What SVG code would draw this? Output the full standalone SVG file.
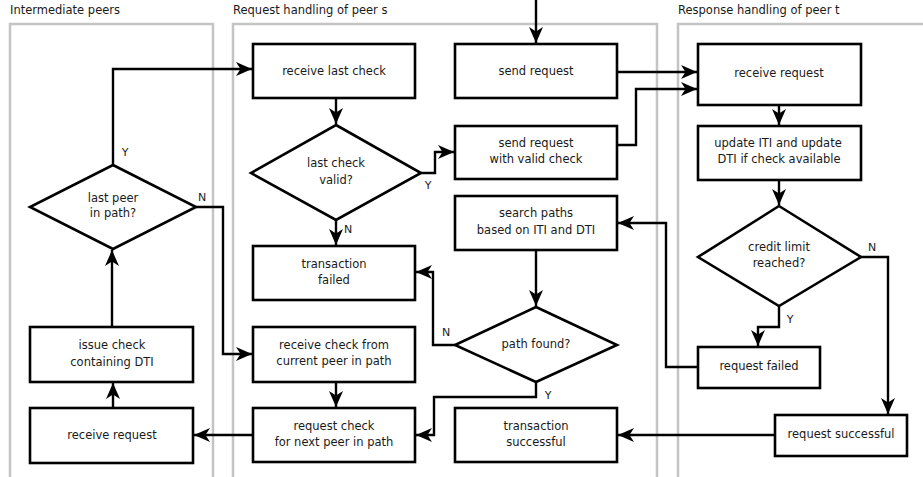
<svg xmlns="http://www.w3.org/2000/svg" width="923" height="477" viewBox="0 0 923 477">
<style>
.lane{fill:none;stroke:#c4c4c4;stroke-width:2.5}
.title{font-family:"DejaVu Sans",sans-serif;font-size:11.5px;fill:#1a1a1a}
.box{fill:#fff;stroke:#000;stroke-width:2.6}
.t{font-family:"DejaVu Sans",sans-serif;font-size:11.5px;fill:#1a1a1a;text-anchor:middle}
.lbl{font-family:"DejaVu Sans",sans-serif;font-size:11px;fill:#1a1a1a;text-anchor:middle}
.c{fill:none;stroke:#000;stroke-width:2.4;marker-end:url(#arr)}
</style>
<defs>
<marker id="arr" viewBox="-16 -8 17 16" refX="0" refY="0" markerWidth="17" markerHeight="16" markerUnits="userSpaceOnUse" orient="auto">
<path d="M0,0 L-16,-7 L-11.5,0 L-16,7 Z" fill="#000"/>
</marker>
</defs>
<g id="lanes">
<path class="lane" d="M10,477 V24 H213 V477"/>
<path class="lane" d="M233,477 V24 H657 V477"/>
<path class="lane" d="M678,477 V24 H930"/>
<text class="title" x="10" y="14">Intermediate peers</text>
<text class="title" x="233" y="14">Request handling of peer s</text>
<text class="title" x="678" y="14">Response handling of peer t</text>
</g>
<g id="connectors">
<path class="c" d="M536,0 V43"/>
<path class="c" d="M617,72 H697"/>
<path class="c" d="M617,145 H636 V89 H697"/>
<path class="c" d="M336,98 V124"/>
<path class="c" d="M421,173 H435 V152 H454"/>
<path class="c" d="M336,220 V245"/>
<path class="c" d="M779,105 V125"/>
<path class="c" d="M779,180 V205"/>
<path class="c" d="M861,257 H888 V414"/>
<path class="c" d="M779,306 V327 H758 V346"/>
<path class="c" d="M698,367 H666 V223 H618"/>
<path class="c" d="M775,435 H618"/>
<path class="c" d="M536,250 V306"/>
<path class="c" d="M455,345 H433 V272 H416"/>
<path class="c" d="M536,382 V397 H434 V435 H416"/>
<path class="c" d="M336,382 V407"/>
<path class="c" d="M253,435 H194"/>
<path class="c" d="M113,408 V383"/>
<path class="c" d="M112,327 V250"/>
<path class="c" d="M113,165 V69 H252"/>
<path class="c" d="M196,207 H223 V354 H252"/>
<text class="lbl" x="125" y="156">Y</text>
<text class="lbl" x="202" y="201">N</text>
<text class="lbl" x="428" y="189">Y</text>
<text class="lbl" x="348" y="233">N</text>
<text class="lbl" x="446" y="336">N</text>
<text class="lbl" x="548" y="399">Y</text>
<text class="lbl" x="872" y="251">N</text>
<text class="lbl" x="790" y="323">Y</text>
</g>
<g id="receive-last-check"><rect class="box" x="253" y="44" width="162" height="54"/><text class="t" x="334" y="75">receive last check</text></g>
<g id="send-request"><rect class="box" x="455" y="44" width="162" height="54"/><text class="t" x="536" y="75">send request</text></g>
<g id="send-request-valid"><rect class="box" x="455" y="126" width="162" height="53"/><text class="t" x="536" y="147">send request</text><text class="t" x="536" y="163">with valid check</text></g>
<g id="search-paths"><rect class="box" x="455" y="196" width="162" height="54"/><text class="t" x="536" y="217">search paths</text><text class="t" x="536" y="234">based on ITI and DTI</text></g>
<g id="transaction-failed"><rect class="box" x="253" y="246" width="162" height="54"/><text class="t" x="334" y="268">transaction</text><text class="t" x="334" y="284">failed</text></g>
<g id="receive-check-current"><rect class="box" x="253" y="327" width="162" height="55"/><text class="t" x="334" y="349">receive check from</text><text class="t" x="334" y="365">current peer in path</text></g>
<g id="request-check-next"><rect class="box" x="253" y="408" width="162" height="54"/><text class="t" x="334" y="430">request check</text><text class="t" x="334" y="446">for next peer in path</text></g>
<g id="transaction-successful"><rect class="box" x="455" y="408" width="162" height="54"/><text class="t" x="536" y="430">transaction</text><text class="t" x="536" y="446">successful</text></g>
<g id="last-check-valid"><polygon class="box" points="336,125 421,173 336,220 251,173"/><text class="t" x="336" y="167">last check</text><text class="t" x="336" y="184">valid?</text></g>
<g id="path-found"><polygon class="box" points="536,307 617,345 536,382 455,345"/><text class="t" x="536" y="348">path found?</text></g>
<g id="last-peer-in-path"><polygon class="box" points="113,165 196,207 113,249 30,207"/><text class="t" x="113" y="202">last peer</text><text class="t" x="113" y="217">in path?</text></g>
<g id="issue-check"><rect class="box" x="30" y="327" width="163" height="55"/><text class="t" x="112" y="349">issue check</text><text class="t" x="112" y="366">containing DTI</text></g>
<g id="receive-request-int"><rect class="box" x="30" y="408" width="163" height="55"/><text class="t" x="112" y="439">receive request</text></g>
<g id="receive-request-t"><rect class="box" x="698" y="44" width="163" height="61"/><text class="t" x="779" y="77">receive request</text></g>
<g id="update-iti"><rect class="box" x="698" y="126" width="163" height="54"/><text class="t" x="778" y="147">update ITI and update</text><text class="t" x="779" y="163"> DTI if check available</text></g>
<g id="credit-limit"><polygon class="box" points="779,206 861,257 779,306 698,257"/><text class="t" x="779" y="251">credit limit</text><text class="t" x="779" y="267">reached?</text></g>
<g id="request-failed"><rect class="box" x="698" y="347" width="122" height="41"/><text class="t" x="759" y="370">request failed</text></g>
<g id="request-successful"><rect class="box" x="775" y="415" width="132" height="41"/><text class="t" x="841" y="438">request successful</text></g>
</svg>
